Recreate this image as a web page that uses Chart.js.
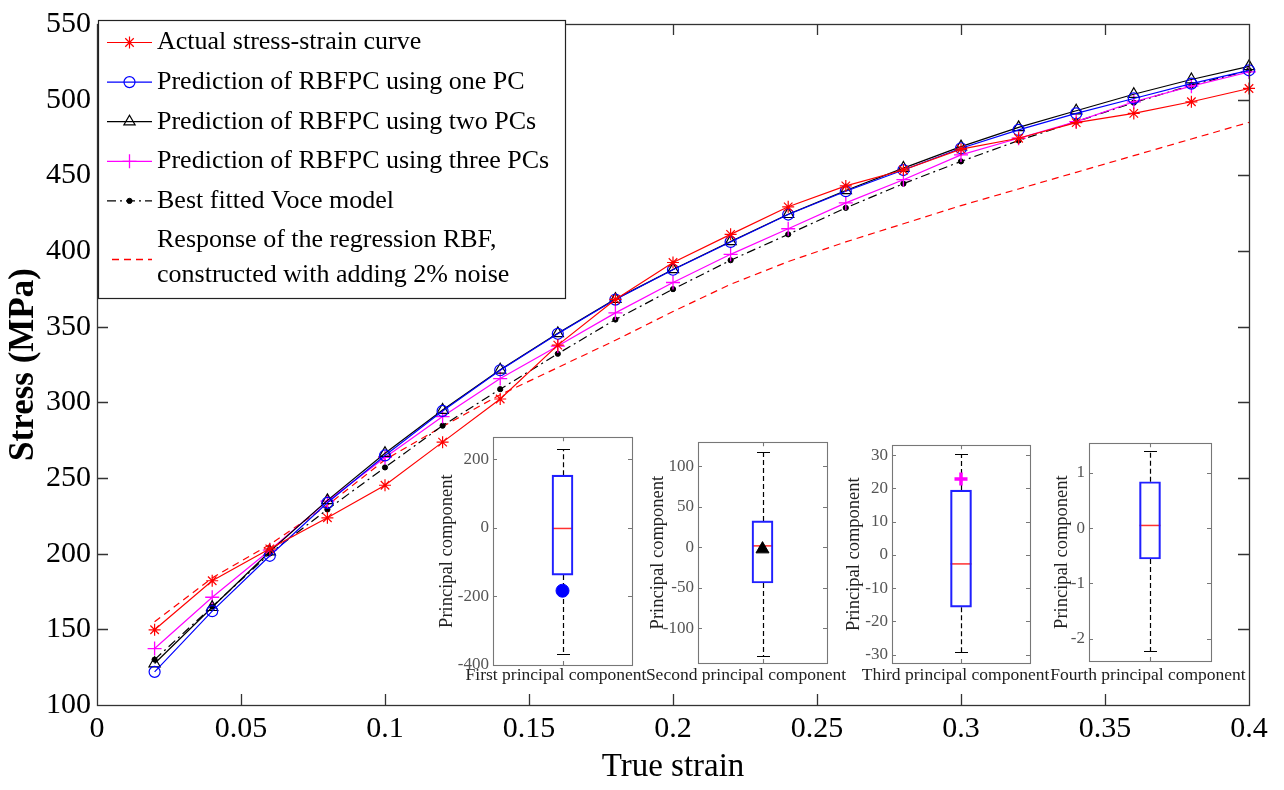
<!DOCTYPE html>
<html><head><meta charset="utf-8">
<script src="https://cdn.jsdelivr.net/npm/chart.js@4.4.1/dist/chart.umd.min.js"></script>
<style>
html,body{margin:0;padding:0;background:#fff;}
#wrap{position:relative;width:1284px;height:790px;overflow:hidden;background:#fff;}
canvas{position:absolute;}
</style></head>
<body><div id="wrap"><canvas id="main" width="1284" height="790" style="left:0;top:0"></canvas></div>
<script>
// ---------------- DATA ----------------
const strain = [0.02,0.04,0.06,0.08,0.10,0.12,0.14,0.16,0.18,0.20,0.22,0.24,0.26,0.28,0.30,0.32,0.34,0.36,0.38,0.40];
const actualStress = [149.7,182.1,203.2,223.7,245.2,273.7,302.2,337.8,368.0,392.4,411.0,429.2,443.0,453.5,467.3,474.5,484.8,490.9,498.6,507.4];
const onePC = [121.9,162.0,198.6,233.6,264.9,294.3,321.2,345.3,367.9,387.6,406.0,424.1,439.5,453.5,467.9,480.0,490.9,500.8,510.6,519.4];
const twoPCs = [127.4,164.6,201.4,235.2,266.4,294.9,321.5,345.6,368.2,387.8,406.3,424.3,440.0,454.8,469.0,481.7,492.7,503.6,513.3,522.0];
const threePCs = [137.3,171.2,202.3,234.7,263.6,290.6,315.7,337.2,359.1,379.2,397.8,414.7,431.8,447.1,463.5,474.5,485.5,498.6,508.9,518.3];
const voceModel = [130.0,165.0,200.1,229.2,257.0,284.6,308.7,332.1,354.7,374.8,393.9,411.0,428.5,444.5,459.2,473.0,485.5,498.0,509.5,519.4];
const regressionRBF = [155,184,206,232,262,284,305,323,341,360,378,393,406,418,430,441,452,463,474,485];

const seriesNames = [
  'Actual stress-strain curve',
  'Prediction of RBFPC using one PC',
  'Prediction of RBFPC using two PCs',
  'Prediction of RBFPC using three PCs',
  'Best fitted Voce model',
  ['Response of the regression RBF,', 'constructed with adding 2% noise']
];
const xTickLabels = ['0','0.05','0.1','0.15','0.2','0.25','0.3','0.35','0.4'];
const yTickLabels = ['100','150','200','250','300','350','400','450','500','550'];

// Box plots of principal components (insets)
const pcNames = ['First principal component','Second principal component','Third principal component','Fourth principal component'];
const pcWhiskerLow = [-369, -134, -29.2, -2.23];
const pcQ1 = [-138, -43.8, -15.7, -0.56];
const pcMedian = [-2, 2, -2.7, 0.047];
const pcQ3 = [153.4, 32.8, 19.5, 0.837];
const pcWhiskerHigh = [229, 117.6, 30.3, 1.385];
const pcTestValue = [-183.5, -2, 22.8, null];
const pcAxisMin = [-400, -142.6, -32.5, -2.405];
const pcAxisMax = [264, 130, 33, 1.535];
const pcTickStep = [200, 50, 10, 1];

// ---------------- STYLE / LAYOUT ----------------
const SERIF = '"Liberation Serif","Times New Roman",serif';
const insetLayout = [
  {boxL:493, boxR:632, boxT:437, boxB:665, titleX:446.5, labelX:556},
  {boxL:698, boxR:827, boxT:442, boxB:663, titleX:657.5, labelX:746},
  {boxL:892, boxR:1030, boxT:445, boxB:663, titleX:854, labelX:955.5},
  {boxL:1089, boxR:1211, boxT:443, boxB:661, titleX:1061.5, labelX:1148}
];
const insetBottom = 692;
const insetLabelY = 675.5;
const insetMarker = [
  {pointStyle:'circle', color:'#0000ff', radius:6.5, fill:'#0000ff', bw:1},
  {pointStyle:'triangle', color:'#000000', radius:7.5, fill:'#000000', bw:1},
  {pointStyle:'cross', color:'#ff00ff', radius:6.5, fill:'#ff00ff', bw:3.5},
  null
];

function drawMarker(ctx, opts, x, y) {
  if (Chart.helpers && Chart.helpers.drawPoint) {
    Chart.helpers.drawPoint(ctx, opts, x, y);
  } else {
    ctx.beginPath(); ctx.arc(x, y, opts.radius, 0, Math.PI*2); ctx.fill(); ctx.stroke();
  }
}

// frame + inward ticks (MATLAB box style)
function frameTicks(chart, len, color, lw, xTicksOn) {
  const {ctx, chartArea:a} = chart;
  const xs = chart.scales.x, ys = chart.scales.y;
  ctx.save();
  ctx.strokeStyle = color; ctx.lineWidth = lw;
  ctx.beginPath();
  ys.ticks.forEach(t => {
    const p = Math.round(ys.getPixelForValue(t.value)) + 0.5;
    if (p <= a.top + 1 || p >= a.bottom - 1) return;
    ctx.moveTo(a.left, p); ctx.lineTo(a.left + len, p);
    ctx.moveTo(a.right, p); ctx.lineTo(a.right - len, p);
  });
  if (xTicksOn) {
    const pts = xs.type === 'category' ? [ (a.left + a.right) / 2 ] : xs.ticks.map(t => xs.getPixelForValue(t.value));
    pts.forEach(px => {
      const p = Math.round(px) + 0.5;
      if (p <= a.left + 1 || p >= a.right - 1) return;
      ctx.moveTo(p, a.bottom); ctx.lineTo(p, a.bottom - len);
      ctx.moveTo(p, a.top); ctx.lineTo(p, a.top + len);
    });
  }
  ctx.stroke();
  ctx.strokeRect(Math.round(a.left) + 0.5, Math.round(a.top) + 0.5, Math.round(a.right - a.left), Math.round(a.bottom - a.top));
  ctx.restore();
}

const frameMain = {
  id: 'frameMain',
  afterDatasetsDraw(chart) { frameTicks(chart, 11, '#333', 1.3, true); }
};

const boxLegend = {
  id: 'boxLegend',
  afterDraw(chart) {
    const ctx = chart.ctx;
    const o = {x:98, y:20, w:467, h:278, sx0:107, sx1:152, tx:157, first:42.5, pitch:39.6, linePitch:35};
    ctx.save();
    ctx.fillStyle = '#fff'; ctx.fillRect(o.x, o.y, o.w, o.h);
    ctx.strokeStyle = '#222'; ctx.lineWidth = 1.2;
    ctx.strokeRect(o.x + 0.5, o.y + 0.5, o.w, o.h);
    ctx.font = '26px ' + SERIF; ctx.textBaseline = 'middle'; ctx.textAlign = 'left';
    let y = o.first;
    chart.data.datasets.forEach(ds => {
      const lines = Array.isArray(ds.label) ? ds.label : [ds.label];
      const sy = y + (lines.length - 1) * o.linePitch / 2 + (lines.length > 1 ? 1.5 : 0);
      ctx.save();
      ctx.strokeStyle = ds.borderColor; ctx.lineWidth = ds.borderWidth + (lines.length > 1 ? 0.3 : 0);
      ctx.setLineDash(ds.borderDash || []);
      ctx.beginPath(); ctx.moveTo(lines.length > 1 ? o.sx0 + 5 : o.sx0, sy); ctx.lineTo(o.sx1, sy); ctx.stroke();
      ctx.setLineDash([]);
      if (ds.pointRadius > 0) {
        ctx.strokeStyle = ds.pointBorderColor || ds.borderColor;
        ctx.fillStyle = ds.pointBackgroundColor;
        ctx.lineWidth = ds.pointBorderWidth;
        drawMarker(ctx, {pointStyle: ds.pointStyle, radius: ds.pointRadius, rotation: 0, borderWidth: ds.pointBorderWidth}, (o.sx0 + o.sx1) / 2, sy);
      }
      ctx.restore();
      ctx.fillStyle = '#000';
      lines.forEach((ln, k) => ctx.fillText(ln, o.tx, y + k * o.linePitch));
      y += lines.length > 1 ? o.linePitch * lines.length : o.pitch;
    });
    ctx.restore();
  }
};

function series(arr) { return strain.map((x, k) => ({x: x, y: arr[k]})); }

const mainChart = new Chart(document.getElementById('main'), {
  type: 'line',
  data: {
    datasets: [
      {label: seriesNames[0], data: series(actualStress), borderColor:'#ff0000', borderWidth:1.2, pointStyle:'star', pointRadius:6, pointBorderWidth:1.2, pointBorderColor:'#ff0000', pointBackgroundColor:'#ff0000', clip:false},
      {label: seriesNames[1], data: series(onePC), borderColor:'#0000ff', borderWidth:1.2, pointStyle:'circle', pointRadius:5.5, pointBorderWidth:1.2, pointBorderColor:'#0000ff', pointBackgroundColor:'rgba(0,0,0,0)', clip:false},
      {label: seriesNames[2], data: series(twoPCs), borderColor:'#000000', borderWidth:1.2, pointStyle:'triangle', pointRadius:6.5, pointBorderWidth:1.2, pointBorderColor:'#000000', pointBackgroundColor:'rgba(0,0,0,0)', clip:false},
      {label: seriesNames[3], data: series(threePCs), borderColor:'#ff00ff', borderWidth:1.2, pointStyle:'cross', pointRadius:7, pointBorderWidth:1.3, pointBorderColor:'#ff00ff', pointBackgroundColor:'#ff00ff', clip:false},
      {label: seriesNames[4], data: series(voceModel), borderColor:'#000000', borderWidth:1.2, borderDash:[9,4,2,4], pointStyle:'circle', pointRadius:2.6, pointBorderWidth:1, pointBorderColor:'#000000', pointBackgroundColor:'#000000', clip:false},
      {label: seriesNames[5], data: series(regressionRBF), borderColor:'#ff0000', borderWidth:1.2, borderDash:[7,5], pointRadius:0, pointBorderWidth:0, clip:false}
    ]
  },
  options: {
    responsive:false, animation:false, devicePixelRatio:1,
    layout: {padding: {top:20, right:35, left:0, bottom:0}},
    plugins: {legend:{display:false}, tooltip:{enabled:false}},
    elements: {line:{tension:0}},
    scales: {
      x: {
        type:'linear', min:0, max:0.4,
        grid:{display:false, drawTicks:false}, border:{display:false},
        ticks:{stepSize:0.05, includeBounds:false, autoSkip:false, maxRotation:0, padding:6, color:'#000',
               font:{family:SERIF, size:30},
               callback:(v, i) => xTickLabels[i]},
        title:{display:true, text:'True strain', color:'#000', font:{family:SERIF, size:33}, padding:{top:0, bottom:3}},
        afterFit:(s) => { s.height = 85; }
      },
      y: {
        type:'linear', min:100, max:550,
        grid:{display:false, drawTicks:false}, border:{display:false},
        ticks:{stepSize:50, includeBounds:false, padding:6, color:'#000',
               font:{family:SERIF, size:30},
               callback:(v, i) => yTickLabels[i]},
        title:{display:true, text:'Stress (MPa)', color:'#000', font:{family:SERIF, size:35, weight:'bold'}, padding:{top:3, bottom:0}},
        afterFit:(s) => { s.width = 97; }
      }
    }
  },
  plugins: [frameMain, boxLegend]
});

// ---------------- INSET BOX PLOTS ----------------
const insetBg = {
  id:'insetBg',
  beforeDraw(chart) {
    const a = chart.chartArea, ctx = chart.ctx;
    ctx.save(); ctx.fillStyle = '#fff'; ctx.fillRect(a.left, a.top, a.right - a.left, a.bottom - a.top); ctx.restore();
  },
  beforeDatasetsDraw(chart) {
    const i = chart.options.plugins.insetBg.index;
    const el = chart.getDatasetMeta(0).data[0];
    const ys = chart.scales.y, ctx = chart.ctx;
    const cx = Math.round(el.x) + 0.5, half = el.width / 2, cap = 6.5;
    ctx.save();
    ctx.strokeStyle = '#000'; ctx.lineWidth = 1.2; ctx.setLineDash([5,3]);
    ctx.beginPath();
    ctx.moveTo(cx, ys.getPixelForValue(pcQ3[i])); ctx.lineTo(cx, ys.getPixelForValue(pcWhiskerHigh[i]));
    ctx.moveTo(cx, ys.getPixelForValue(pcQ1[i])); ctx.lineTo(cx, ys.getPixelForValue(pcWhiskerLow[i]));
    ctx.stroke();
    ctx.setLineDash([]);
    ctx.beginPath();
    const yh = Math.round(ys.getPixelForValue(pcWhiskerHigh[i])) + 0.5, yl = Math.round(ys.getPixelForValue(pcWhiskerLow[i])) + 0.5;
    ctx.moveTo(cx - cap, yh); ctx.lineTo(cx + cap, yh);
    ctx.moveTo(cx - cap, yl); ctx.lineTo(cx + cap, yl);
    ctx.stroke();
    ctx.strokeStyle = '#ff3030'; ctx.lineWidth = 1.5;
    const ym = ys.getPixelForValue(pcMedian[i]);
    ctx.beginPath(); ctx.moveTo(el.x - half, ym); ctx.lineTo(el.x + half, ym); ctx.stroke();
    ctx.restore();
  },
  afterDraw(chart) {
    frameTicks(chart, 4, '#777', 1.1, true);
    const o = chart.options.plugins.insetBg;
    const ctx = chart.ctx;
    ctx.save();
    ctx.font = '17.5px ' + SERIF; ctx.fillStyle = '#222';
    ctx.textAlign = 'center'; ctx.textBaseline = 'middle';
    ctx.fillText(o.label, o.labelX, o.labelY);
    ctx.restore();
  }
};

pcNames.forEach((name, i) => {
  const L = insetLayout[i];
  const cLeft = Math.round(L.titleX - 15);
  const cTop = L.boxT - 14;
  const cRight = L.boxR + 50;
  const cv = document.createElement('canvas');
  cv.width = cRight - cLeft; cv.height = insetBottom - cTop;
  cv.style.left = cLeft + 'px'; cv.style.top = cTop + 'px';
  document.getElementById('wrap').appendChild(cv);
  const datasets = [{
    type:'bar', data:[[pcQ1[i], pcQ3[i]]], backgroundColor:'rgba(0,0,0,0)', borderColor:'#2020ff',
    borderWidth:1.5, borderSkipped:false, barThickness:21, order:2
  }];
  const m = insetMarker[i];
  if (m && pcTestValue[i] !== null) {
    datasets.push({type:'line', data:[pcTestValue[i]], showLine:false, pointStyle:m.pointStyle, pointRadius:m.radius,
      pointBorderColor:m.color, pointBackgroundColor:m.fill, pointBorderWidth:m.bw, order:1, clip:false});
  }
  new Chart(cv, {
    type:'bar',
    data:{labels:[''], datasets:datasets},
    options:{
      responsive:false, animation:false, devicePixelRatio:1,
      layout:{padding:{top:L.boxT - cTop, right:cRight - L.boxR, left:0, bottom:0}},
      plugins:{legend:{display:false}, tooltip:{enabled:false},
               insetBg:{index:i, label:name, labelX:L.labelX - cLeft, labelY:insetLabelY - cTop}},
      scales:{
        x:{type:'category', offset:true, grid:{display:false, drawTicks:false}, border:{display:false},
           ticks:{display:false}, title:{display:false},
           afterFit:(s) => { s.height = insetBottom - L.boxB; }},
        y:{type:'linear', min:pcAxisMin[i], max:pcAxisMax[i],
           grid:{display:false, drawTicks:false}, border:{display:false},
           ticks:{stepSize:pcTickStep[i], includeBounds:false, padding:4, color:'#555', font:{family:SERIF, size:17}},
           title:{display:true, text:'Principal component', color:'#222', font:{family:SERIF, size:18.5}, padding:{top:4, bottom:0}},
           afterFit:(s) => { s.width = L.boxL - cLeft; }}
      }
    },
    plugins:[insetBg]
  });
});
</script>
</body></html>
